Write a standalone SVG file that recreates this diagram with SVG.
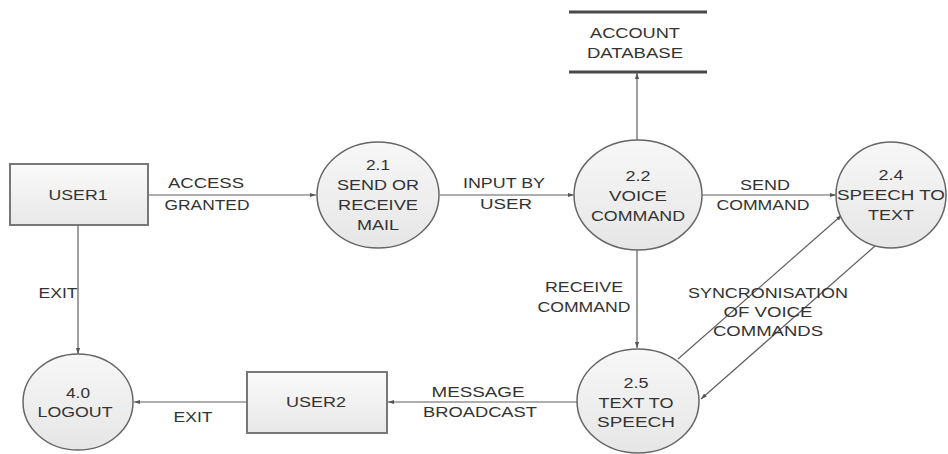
<svg xmlns="http://www.w3.org/2000/svg" width="948" height="454" viewBox="0 0 948 454">
<style>
.bg{fill:#ffffff}
.proc{fill:url(#pg);stroke:#666;stroke-width:1.5}
.ent{fill:url(#bg2);stroke:#777;stroke-width:2}
.store{stroke:#4a4a4a;stroke-width:3}
.flow{fill:none;stroke:#5f5f5f;stroke-width:1.2}
.arr{marker-end:url(#ah)}
text{font-family:"Liberation Sans",Arial,sans-serif;font-size:14px;fill:#333;text-anchor:middle}
</style>
<defs>
<linearGradient id="pg" x1="0" y1="0" x2="0" y2="1"><stop offset="0" stop-color="#f7f7f7"/><stop offset="1" stop-color="#e6e6e6"/></linearGradient>
<linearGradient id="bg2" x1="0" y1="0" x2="0" y2="1"><stop offset="0" stop-color="#fafafa"/><stop offset="1" stop-color="#e8e8e8"/></linearGradient>
<marker id="ah" viewBox="0 0 10 10" refX="10" refY="5" markerWidth="6" markerHeight="6" markerUnits="userSpaceOnUse" orient="auto"><path d="M0,1.5 L10,5 L0,8.5 Z" fill="#555"/></marker>
</defs>
<rect class="bg" x="0" y="0" width="948" height="454"/>

<g id="connectors">
<line class="flow arr" x1="148" y1="195" x2="316" y2="195"/>
<line class="flow arr" x1="440" y1="195" x2="574" y2="195"/>
<line class="flow arr" x1="702" y1="195" x2="836" y2="195"/>
<line class="flow arr" x1="637" y1="140" x2="637" y2="73"/>
<line class="flow arr" x1="637" y1="250" x2="637" y2="348"/>
<line class="flow arr" x1="678" y1="359" x2="842" y2="215"/>
<line class="flow arr" x1="875" y1="246" x2="701" y2="399"/>
<line class="flow arr" x1="577" y1="402" x2="388" y2="402"/>
<line class="flow arr" x1="247" y1="402" x2="134" y2="402"/>
<line class="flow arr" x1="78" y1="225" x2="78" y2="354"/>
</g>

<g id="labels">
<text x="206" y="188" textLength="76" lengthAdjust="spacingAndGlyphs">ACCESS</text>
<text x="207" y="210" textLength="85" lengthAdjust="spacingAndGlyphs">GRANTED</text>
<text x="504" y="188" textLength="82" lengthAdjust="spacingAndGlyphs">INPUT BY</text>
<text x="506" y="209" textLength="52" lengthAdjust="spacingAndGlyphs">USER</text>
<text x="765" y="190" textLength="50" lengthAdjust="spacingAndGlyphs">SEND</text>
<text x="763" y="210" textLength="93" lengthAdjust="spacingAndGlyphs">COMMAND</text>
<text x="584" y="292" textLength="78" lengthAdjust="spacingAndGlyphs">RECEIVE</text>
<text x="584" y="312" textLength="93" lengthAdjust="spacingAndGlyphs">COMMAND</text>
<text x="768" y="298" textLength="160" lengthAdjust="spacingAndGlyphs">SYNCRONISATION</text>
<text x="768" y="317" textLength="89" lengthAdjust="spacingAndGlyphs">OF VOICE</text>
<text x="768" y="336" textLength="110" lengthAdjust="spacingAndGlyphs">COMMANDS</text>
<text x="478" y="397" textLength="93" lengthAdjust="spacingAndGlyphs">MESSAGE</text>
<text x="480" y="417" textLength="114" lengthAdjust="spacingAndGlyphs">BROADCAST</text>
<text x="193" y="422" textLength="39" lengthAdjust="spacingAndGlyphs">EXIT</text>
<text x="58" y="298" textLength="39" lengthAdjust="spacingAndGlyphs">EXIT</text>
</g>

<g id="user1">
<rect class="ent" x="10" y="164" width="138" height="61"/>
<text x="78" y="200" textLength="59" lengthAdjust="spacingAndGlyphs">USER1</text>
</g>

<g id="p21">
<ellipse class="proc" cx="378" cy="195" rx="61" ry="53"/>
<text x="378" y="170" textLength="24" lengthAdjust="spacingAndGlyphs">2.1</text>
<text x="378" y="190" textLength="82" lengthAdjust="spacingAndGlyphs">SEND OR</text>
<text x="378" y="210" textLength="80" lengthAdjust="spacingAndGlyphs">RECEIVE</text>
<text x="378" y="230" textLength="42" lengthAdjust="spacingAndGlyphs">MAIL</text>
</g>

<g id="accountdb">
<line class="store" x1="569" y1="12" x2="707" y2="12"/>
<line class="store" x1="569" y1="72" x2="707" y2="72"/>
<text x="635" y="38" textLength="90" lengthAdjust="spacingAndGlyphs">ACCOUNT</text>
<text x="635" y="58" textLength="96" lengthAdjust="spacingAndGlyphs">DATABASE</text>
</g>

<g id="p22">
<ellipse class="proc" cx="638" cy="195" rx="64" ry="55"/>
<text x="638" y="181" textLength="25" lengthAdjust="spacingAndGlyphs">2.2</text>
<text x="638" y="201" textLength="58" lengthAdjust="spacingAndGlyphs">VOICE</text>
<text x="638" y="221" textLength="94" lengthAdjust="spacingAndGlyphs">COMMAND</text>
</g>

<g id="p24">
<ellipse class="proc" cx="891" cy="195" rx="55" ry="53"/>
<text x="891" y="180" textLength="25" lengthAdjust="spacingAndGlyphs">2.4</text>
<text x="891" y="200" textLength="108" lengthAdjust="spacingAndGlyphs">SPEECH TO</text>
<text x="891" y="220" textLength="46" lengthAdjust="spacingAndGlyphs">TEXT</text>
</g>

<g id="p25">
<ellipse class="proc" cx="638" cy="401" rx="61" ry="52"/>
<text x="636" y="388" textLength="25" lengthAdjust="spacingAndGlyphs">2.5</text>
<text x="636" y="408" textLength="75" lengthAdjust="spacingAndGlyphs">TEXT TO</text>
<text x="636" y="427" textLength="78" lengthAdjust="spacingAndGlyphs">SPEECH</text>
</g>

<g id="user2">
<rect class="ent" x="247" y="372" width="140" height="61"/>
<text x="316" y="407" textLength="60" lengthAdjust="spacingAndGlyphs">USER2</text>
</g>

<g id="p40">
<ellipse class="proc" cx="78" cy="402" rx="55" ry="48"/>
<text x="78" y="398" textLength="24" lengthAdjust="spacingAndGlyphs">4.0</text>
<text x="75" y="417" textLength="75" lengthAdjust="spacingAndGlyphs">LOGOUT</text>
</g>
</svg>
